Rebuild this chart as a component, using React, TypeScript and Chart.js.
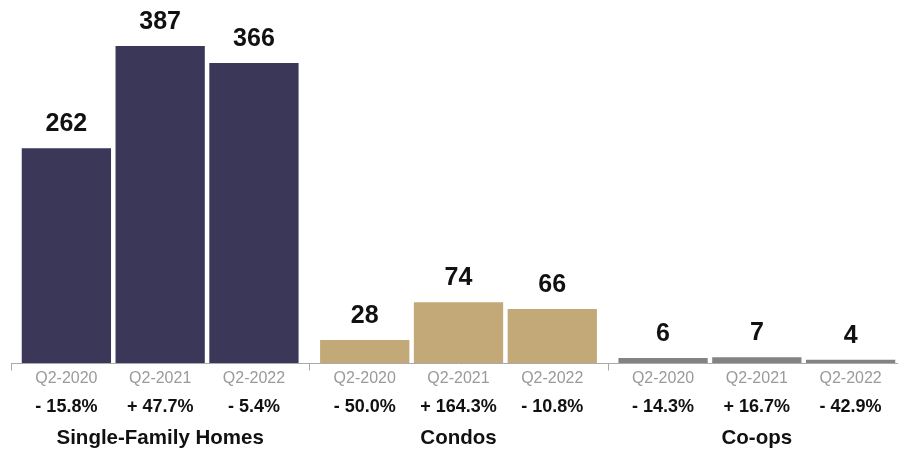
import React, { useEffect, useRef } from "react";
import { Chart, registerables } from "chart.js";

Chart.register(...registerables);

const groups = ["Single-Family Homes", "Condos", "Co-ops"];
const quarters = ["Q2-2020", "Q2-2021", "Q2-2022"];
const valuesQ2020 = [262, 28, 6];
const valuesQ2021 = [387, 74, 7];
const valuesQ2022 = [366, 66, 4];
const changeQ2020 = ["- 15.8%", "- 50.0%", "- 14.3%"];
const changeQ2021 = ["+ 47.7%", "+ 164.3%", "+ 16.7%"];
const changeQ2022 = ["- 5.4%", "- 10.8%", "- 42.9%"];
const groupColors = ["#3a3759", "#c3a977", "#838383"];

const FONT = "'Liberation Sans', Arial, Helvetica, sans-serif";

const labelsPlugin = {
  id: "customLabels",
  afterDatasetsDraw(chart: any) {
    const ctx = chart.ctx;
    const area = chart.chartArea;
    const changes = [changeQ2020, changeQ2021, changeQ2022];
    ctx.save();
    // axis line
    const axisY = area.bottom + 0.5;
    ctx.strokeStyle = "#aaaaaa";
    ctx.lineWidth = 1;
    ctx.beginPath();
    ctx.moveTo(area.left, axisY);
    ctx.lineTo(chart.width, axisY);
    const groupW = (area.right - area.left) / groups.length;
    for (let i = 0; i <= groups.length; i++) {
      const x = Math.round(area.left + i * groupW) + 0.5;
      ctx.moveTo(x, axisY);
      ctx.lineTo(x, axisY + 7);
    }
    ctx.stroke();

    ctx.textAlign = "center";
    chart.data.datasets.forEach((ds: any, di: number) => {
      const meta = chart.getDatasetMeta(di);
      meta.data.forEach((bar: any, i: number) => {
        // value label
        ctx.fillStyle = "#111111";
        ctx.font = `bold 25px ${FONT}`;
        ctx.textBaseline = "alphabetic";
        ctx.fillText(String(ds.data[i]), bar.x, bar.y - 17);
        // quarter label
        ctx.fillStyle = "#9a9a9a";
        ctx.font = `16px ${FONT}`;
        ctx.textBaseline = "middle";
        ctx.fillText(quarters[di], bar.x, 379);
        // change label
        ctx.fillStyle = "#111111";
        ctx.font = `bold 18px ${FONT}`;
        ctx.textBaseline = "alphabetic";
        ctx.fillText(changes[di][i], bar.x, 412);
      });
    });
    // group labels
    ctx.fillStyle = "#111111";
    ctx.font = `bold 20.5px ${FONT}`;
    ctx.textBaseline = "alphabetic";
    groups.forEach((g, i) => {
      const cx = area.left + (i + 0.5) * groupW;
      ctx.fillText(g, cx, 444);
    });
    ctx.restore();
  },
};

export default function App() {
  const canvasRef = useRef<HTMLCanvasElement | null>(null);

  useEffect(() => {
    if (!canvasRef.current) return;
    const chart = new Chart(canvasRef.current, {
      type: "bar",
      data: {
        labels: groups,
        datasets: [
          { label: quarters[0], data: valuesQ2020, backgroundColor: groupColors },
          { label: quarters[1], data: valuesQ2021, backgroundColor: groupColors },
          { label: quarters[2], data: valuesQ2022, backgroundColor: groupColors },
        ],
      },
      options: {
        responsive: false,
        animation: false,
        categoryPercentage: 0.943,
        barPercentage: 0.952,
        layout: { padding: { left: 11, right: 0, top: 0, bottom: 91 } },
        plugins: { legend: { display: false }, tooltip: { enabled: false } },
        scales: {
          x: { display: false },
          y: { display: false, min: 0, max: 443 },
        },
      } as any,
      plugins: [labelsPlugin],
    });
    return () => chart.destroy();
  }, []);

  return (
    <div style={{ position: "fixed", left: 0, top: 0, width: 906, height: 454, background: "#ffffff" }}>
      <canvas ref={canvasRef} width={906} height={454} style={{ display: "block" }} />
    </div>
  );
}
